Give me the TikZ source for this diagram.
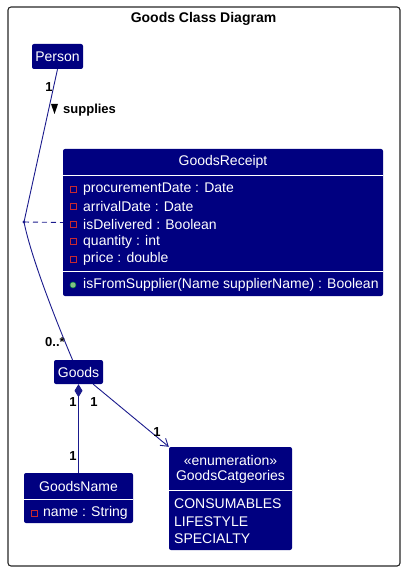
\documentclass[tikz,border=0pt]{standalone}
\usepackage{fontspec}
\setmainfont{Liberation Sans}
\usetikzlibrary{arrows.meta}
\definecolor{umlnavy}{HTML}{000080}
\definecolor{umlline}{HTML}{1A1A8C}
\definecolor{attrred}{HTML}{C82930}
\definecolor{opgreen}{HTML}{84BE84}
\definecolor{opdkgreen}{HTML}{038048}
\tikzset{
  classbox/.style={fill=umlnavy, rounded corners=2pt, inner sep=0pt, text=white, font=\fontsize{14}{16}\selectfont},
  member/.style={anchor=west, inner sep=0pt, text=white, font=\fontsize{14}{16}\selectfont},
  multiplicity/.style={inner sep=0pt, font=\bfseries\fontsize{13}{15}\selectfont},
  link/.style={draw=umlline, line width=0.9pt},
  sepline/.style={draw=white, line width=0.8pt},
  attricon/.style={draw=attrred, line width=0.8pt}
}
\begin{document}
\begin{tikzpicture}[x=1pt, y=-1pt]
    \useasboundingbox (0,0) rectangle (405,572);
    % Frame
    \draw[line width=1.1pt, rounded corners=3pt, draw=black!85] (8,7) rectangle (400,566);
    \node[font=\bfseries\fontsize{14}{16}\selectfont, inner sep=0pt] (title) at (203.5,19) {Goods Class Diagram};

    % Person
    \node[classbox, minimum width=51pt, minimum height=25pt] (person) at (57.5,56.5) {Person};

    % GoodsReceipt
    \node[classbox, minimum width=320pt, minimum height=147pt] (receipt) at (223,222.5) {};
    \node[classbox, fill=none] (receipttitle) at (223,162) {GoodsReceipt};
    \draw[sepline] (63,175) -- (383,175);
    \draw[sepline] (63,271.5) -- (383,271.5);
    \foreach \y/\txt in {189/{procurementDate : Date}, 206.5/{arrivalDate : Date},
        224/{isDelivered : Boolean}, 241.5/{quantity : int}, 259/{price : double}} {
        \draw[attricon] (70,\y-3) rectangle (76,\y+3);
        \node[member] (attr\y) at (83,\y) {\txt};
    }
    \filldraw[fill=opgreen, draw=opdkgreen, line width=0.5pt] (73,285) circle (3);
    \node[member] (method) at (83,285) {isFromSupplier(Name supplierName) : Boolean};

    % Goods
    \node[classbox, minimum width=49pt, minimum height=24pt] (goods) at (78.5,372) {Goods};

    % GoodsName
    \node[classbox, minimum width=109pt, minimum height=50pt] (goodsname) at (78.5,498) {};
    \node[classbox, fill=none] (goodsnametitle) at (78.5,486) {GoodsName};
    \draw[sepline] (24,499) -- (133,499);
    \draw[attricon] (31,510) rectangle (37,516);
    \node[member] (nameattr) at (43,513) {name : String};

    % GoodsCatgeories
    \node[classbox, minimum width=123pt, minimum height=103pt] (cats) at (230.5,498.5) {};
    \node[classbox, fill=none] (stereo) at (230.5,460) {«enumeration»};
    \node[classbox, fill=none] (catstitle) at (230.5,477) {GoodsCatgeories};
    \draw[sepline] (169,490.5) -- (292,490.5);
    \foreach \y/\txt in {504/CONSUMABLES, 521.5/LIFESTYLE, 539/SPECIALTY} {
        \node[member] (cat\y) at (174,\y) {\txt};
    }

    % Associations
    \coordinate (assoc) at (24,222);
    \draw[link] (person.south) -- (assoc)
        .. controls (32,262) and (62,335) .. ([xshift=-6pt]goods.north);
    \fill[umlline] (assoc) circle (1.6);
    \draw[link, dash pattern=on 5pt off 4pt] (assoc) -- (receipt.west);
    \node[multiplicity] (m1) at (49,87) {1};
    \fill (51,104) -- (58,104) -- (54.5,114) -- cycle;
    \node[multiplicity, anchor=west] (supplies) at (63,110) {supplies};
    \node[multiplicity] (m2) at (55,342) {0..*};

    \draw[link, {Diamond[length=13pt, width=8pt]}-] (goods.south) -- (goodsname.north);
    \node[multiplicity] (m3) at (73,402) {1};
    \node[multiplicity] (m4) at (73,456) {1};

    \draw[link, -{Straight Barb[length=7pt, width=9pt]}] ([xshift=-10pt]goods.south east) -- (cats.north west);
    \node[multiplicity] (m5) at (94,402) {1};
    \node[multiplicity] (m6) at (157,432) {1};
\end{tikzpicture}
\end{document}
